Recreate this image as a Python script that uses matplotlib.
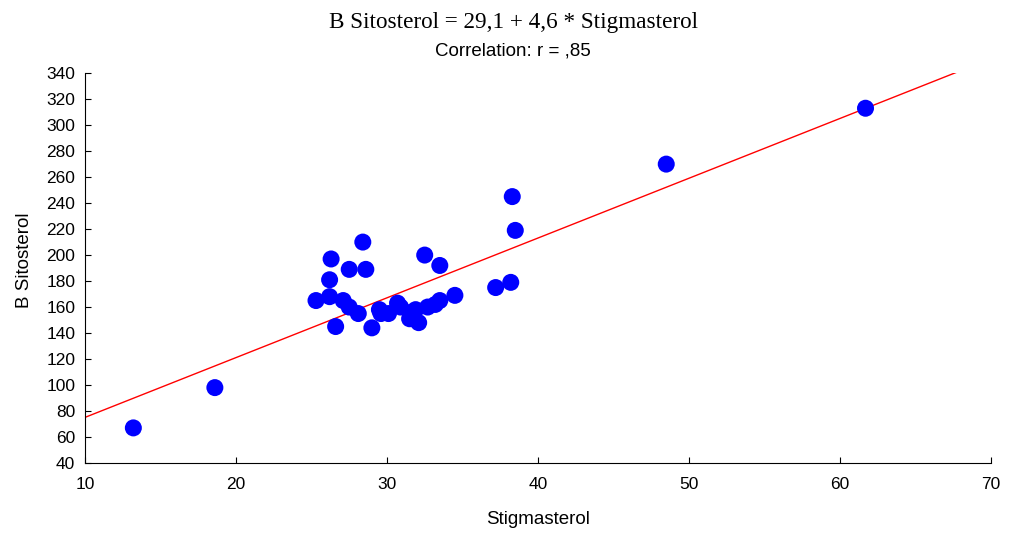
import numpy as np
import matplotlib
matplotlib.use("Agg")
import matplotlib.pyplot as plt

# Stigmasterol (x) vs B Sitosterol (y)
stigmasterol = [13.2, 18.6, 61.7, 48.5, 38.3, 38.5, 38.2, 37.2, 34.5, 33.5,
                32.5, 28.4, 26.3, 26.2, 27.5, 28.6, 25.3, 26.2, 27.1, 27.5,
                28.1, 26.6, 29.0, 29.5, 30.1, 30.7, 31.5, 32.1, 31.9, 32.7,
                33.2, 33.5, 29.6, 30.9, 31.6]
sitosterol = [67, 98, 313, 270, 245, 219, 179, 175, 169, 192,
              200, 210, 197, 181, 189, 189, 165, 168, 165, 160,
              155, 145, 144, 158, 155, 163, 151, 148, 158, 160,
              162, 165, 155, 160, 156]

intercept, slope = 29.1, 4.6
xticks = [10, 20, 30, 40, 50, 60, 70]
yticks = list(range(40, 341, 20))

fig = plt.figure(figsize=(10.1, 5.34), dpi=100)
ax = fig.add_axes([0.0842, 0.133, 0.8968, 0.730])

ax.scatter(stigmasterol, sitosterol, s=150, color="#0000ff", edgecolors="none", zorder=3)

xl = np.array([10, 70])
ax.plot(xl, intercept + slope * xl, color="red", lw=1, zorder=2)

ax.set_xlim(10, 70)
ax.set_ylim(40, 340)
ax.set_xticks(xticks)
ax.set_yticks(yticks)
ax.spines["top"].set_visible(False)
ax.spines["right"].set_visible(False)
ax.tick_params(direction="in", length=4, labelsize=12.5)
ax.tick_params(axis="x", pad=10)
ax.tick_params(axis="y", pad=7)
for lab in ax.get_xticklabels() + ax.get_yticklabels():
    lab.set_family("Liberation Sans")

ax.set_xlabel("Stigmasterol", fontsize=13.5, family="Liberation Sans", labelpad=14)
ax.set_ylabel("B Sitosterol", fontsize=13.5, family="Liberation Sans")
ax.yaxis.set_label_coords(-0.058, 0.52)

fig.text(0.508, 0.957, "B Sitosterol = 29,1 + 4,6 * Stigmasterol", ha="center", va="center",
         fontsize=16.7, family="Liberation Serif")
fig.text(0.508, 0.905, "Correlation: r = ,85", ha="center", va="center",
         fontsize=13.5, family="Liberation Sans")

fig.savefig("out.png", dpi=100)
